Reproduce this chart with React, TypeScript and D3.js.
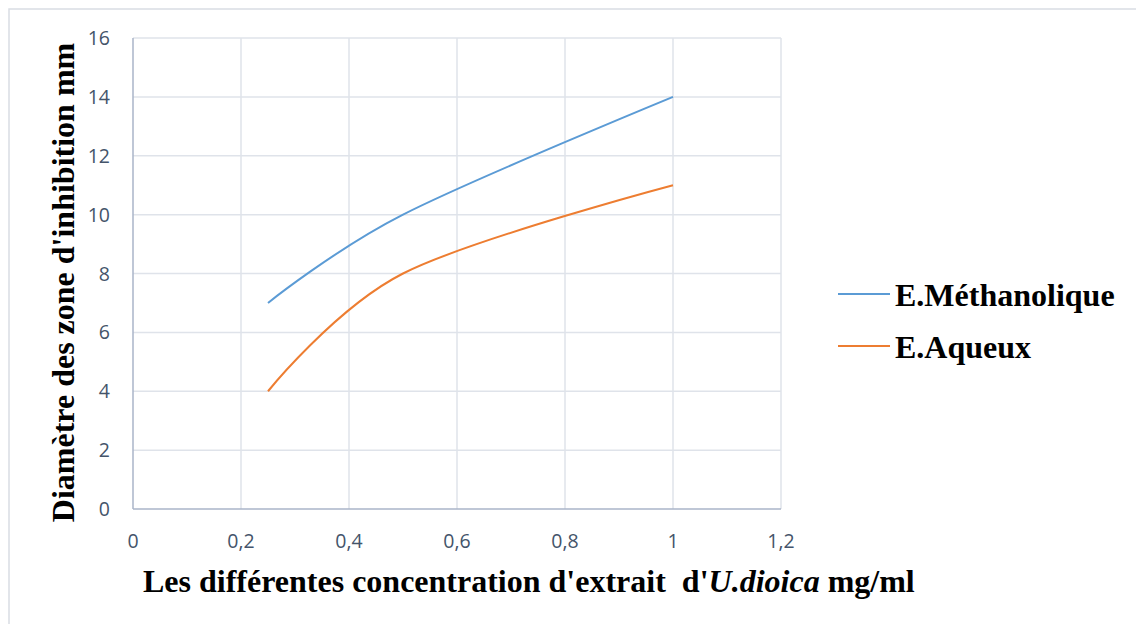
import React, { useEffect, useRef } from 'react';
import * as d3 from 'd3';

// concentrations (mg/ml)
const concentrations = [0.25, 0.5, 1];
const methanolValues = [7, 10, 14];
const aqueousValues = [4, 8, 11];
const seriesNames = ['E.Méthanolique', 'E.Aqueux'];
const seriesColors = ['#5B9BD5', '#ED7D31'];
const xTicks = [0, 0.2, 0.4, 0.6, 0.8, 1, 1.2];
const yTicks = [0, 2, 4, 6, 8, 10, 12, 14, 16];

const width = 1136;
const height = 624;
const margins = { top: 38, left: 133, right: 355, bottom: 115 };

export default function App() {
  const svgRef = useRef<SVGSVGElement>(null);

  useEffect(() => {
    const svg = d3.select(svgRef.current);
    svg.selectAll('*').remove();

    const plotW = width - margins.left - margins.right;
    const plotH = height - margins.top - margins.bottom;

    const x = d3.scaleLinear().domain([0, 1.2]).range([margins.left, margins.left + plotW]);
    const y = d3.scaleLinear().domain([0, 16]).range([margins.top + plotH, margins.top]);

    // chart border
    svg.append('rect')
      .attr('x', 9).attr('y', 9)
      .attr('width', width).attr('height', height)
      .attr('fill', 'white')
      .attr('stroke', '#d9dde4')
      .attr('stroke-width', 1.5);

    // grid
    const grid = svg.append('g').attr('class', 'grid');
    grid.selectAll('line.h')
      .data(yTicks.slice(1))
      .enter().append('line')
      .attr('x1', x(0)).attr('x2', x(1.2))
      .attr('y1', d => y(d)).attr('y2', d => y(d))
      .attr('stroke', '#dfe3ea').attr('stroke-width', 1.5);
    grid.selectAll('line.v')
      .data(xTicks.slice(1))
      .enter().append('line')
      .attr('y1', y(0)).attr('y2', y(16))
      .attr('x1', d => x(d)).attr('x2', d => x(d))
      .attr('stroke', '#dfe3ea').attr('stroke-width', 1.5);

    // axis lines
    svg.append('line')
      .attr('x1', x(0)).attr('x2', x(0)).attr('y1', y(0)).attr('y2', y(16))
      .attr('stroke', '#aab4c8').attr('stroke-width', 1.5);
    svg.append('line')
      .attr('x1', x(0)).attr('x2', x(1.2)).attr('y1', y(0)).attr('y2', y(0))
      .attr('stroke', '#aab4c8').attr('stroke-width', 1.5);

    const fmt = (d: number) => String(+d.toFixed(1)).replace('.', ',');

    // tick labels
    svg.append('g').selectAll('text')
      .data(yTicks)
      .enter().append('text')
      .attr('x', 110).attr('y', d => y(d))
      .attr('dy', '0.36em')
      .attr('text-anchor', 'end')
      .attr('font-family', 'Open Sans, sans-serif')
      .attr('font-size', 19.5)
      .attr('fill', '#44546A')
      .text(d => fmt(d));
    svg.append('g').selectAll('text')
      .data(xTicks)
      .enter().append('text')
      .attr('x', d => x(d)).attr('y', 548)
      .attr('text-anchor', 'middle')
      .attr('font-family', 'Open Sans, sans-serif')
      .attr('font-size', 19.5)
      .attr('fill', '#44546A')
      .text(d => fmt(d));

    // lines (Excel-like smoothing)
    const series = [methanolValues, aqueousValues];
    const line = d3.line<[number, number]>()
      .x(d => x(d[0]))
      .y(d => y(d[1]))
      .curve(d3.curveCatmullRom.alpha(0));
    series.forEach((vals, i) => {
      svg.append('path')
        .datum(concentrations.map((c, j) => [c, vals[j]] as [number, number]))
        .attr('d', line)
        .attr('fill', 'none')
        .attr('stroke', seriesColors[i])
        .attr('stroke-width', 2);
    });

    // axis titles
    svg.append('text')
      .attr('transform', `translate(74,${(y(0) + y(16)) / 2 + 9}) rotate(-90)`)
      .attr('text-anchor', 'middle')
      .attr('font-family', 'Liberation Serif, serif')
      .attr('font-weight', 'bold')
      .attr('font-size', 32)
      .attr('fill', '#000')
      .text("Diamètre des zone d'inhibition mm");

    const xt = svg.append('text')
      .attr('x', 143).attr('y', 592)
      .attr('font-family', 'Liberation Serif, serif')
      .attr('font-weight', 'bold')
      .attr('font-size', 32)
      .attr('fill', '#000')
      .style('white-space', 'pre');
    xt.append('tspan').text("Les différentes concentration d'extrait  d'");
    xt.append('tspan').attr('font-style', 'italic').text('U.dioica');
    xt.append('tspan').text(' mg/ml');

    // legend
    const legend = svg.append('g');
    seriesNames.forEach((name, i) => {
      const ly = 294 + i * 52;
      legend.append('line')
        .attr('x1', 838).attr('x2', 890).attr('y1', ly).attr('y2', ly)
        .attr('stroke', seriesColors[i]).attr('stroke-width', 2);
      legend.append('text')
        .attr('x', 895).attr('y', ly + 12)
        .attr('font-family', 'Liberation Serif, serif')
        .attr('font-weight', 'bold')
        .attr('font-size', 32)
        .attr('fill', '#000')
        .text(name);
    });
  }, []);

  return (
    <svg
      ref={svgRef}
      width={width}
      height={height}
      style={{ position: 'absolute', left: 0, top: 0, display: 'block' }}
    />
  );
}
